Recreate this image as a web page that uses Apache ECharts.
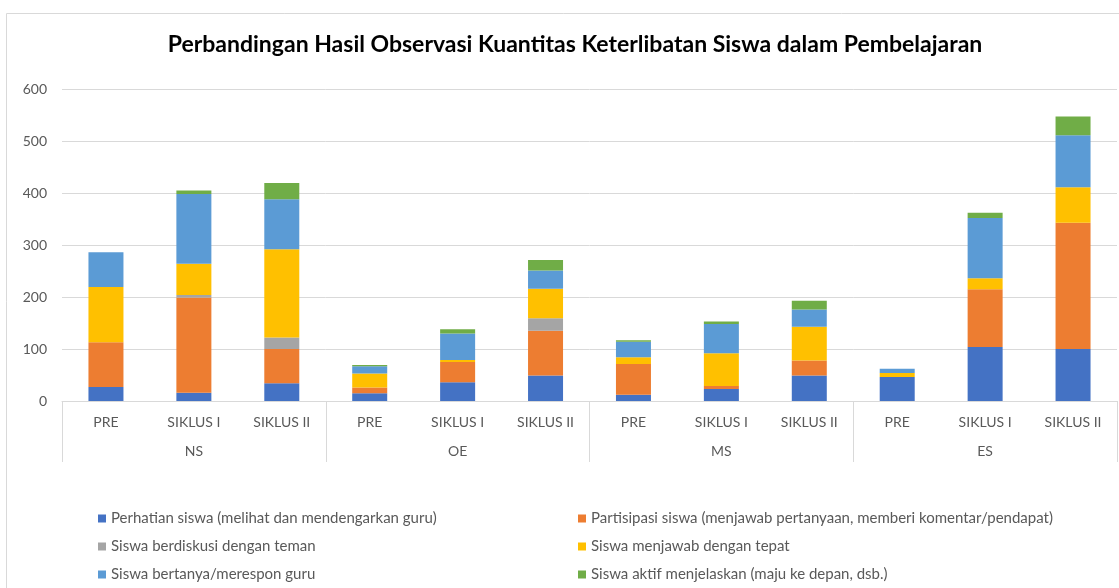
<!DOCTYPE html>
<html>
<head>
<meta charset="utf-8">
<script src="https://cdn.jsdelivr.net/npm/echarts@6/dist/echarts.min.js"></script>
<style>
  html, body { margin: 0; padding: 0; background: #fff; }
  #chart { width: 1119px; height: 588px; }
</style>
</head>
<body>
<div id="chart"></div>
<script>
// categories
const groups = ['NS', 'OE', 'MS', 'ES']
const phases = ['PRE', 'SIKLUS I', 'SIKLUS II']
const categories = []
groups.forEach(g => phases.forEach(p => categories.push(p)))

// series values, order: NS(PRE, SIKLUS I, SIKLUS II), OE(...), MS(...), ES(...)
const perhatian = [27, 16, 34, 15, 36, 49, 12, 23, 49, 46, 104, 100]
const partisipasi = [86, 183, 66, 11, 39, 86, 59, 6, 29, 0, 111, 243]
const diskusi = [0, 5, 22, 0, 0, 24, 0, 0, 0, 0, 0, 0]
const menjawab = [106, 60, 170, 27, 4, 57, 13, 63, 65, 8, 21, 68]
const bertanya = [67, 134, 96, 14, 51, 35, 30, 56, 33, 8, 116, 100]
const aktif = [0, 7, 31, 2, 8, 20, 3, 5, 17, 0, 10, 36]

const yTicks = { min: 0, max: 600, interval: 100 }

const names = [
  'Perhatian siswa (melihat dan mendengarkan guru)',
  'Partisipasi siswa (menjawab pertanyaan, memberi komentar/pendapat)',
  'Siswa berdiskusi dengan teman',
  'Siswa menjawab dengan tepat',
  'Siswa bertanya/merespon guru',
  'Siswa aktif menjelaskan (maju ke depan, dsb.)'
]
const colors = ['#4472C4', '#ED7D31', '#A5A5A5', '#FFC000', '#5B9BD5', '#70AD47']
const values = [perhatian, partisipasi, diskusi, menjawab, bertanya, aktif]

const font = 'Lato, "Open Sans", sans-serif'
const textColor = '#595959'
const lineColor = '#d9d9d9'

const legendBase = {
  orient: 'vertical',
  top: 506,
  itemWidth: 8,
  itemHeight: 8,
  itemGap: 13,
  icon: 'rect',
  selectedMode: false,
  textStyle: { color: textColor, fontSize: 15, fontFamily: font }
}

const chart = echarts.init(document.getElementById('chart'))
chart.setOption({
  animation: false,
  color: colors,
  title: {
    text: 'Perbandingan Hasil Observasi Kuantitas Keterlibatan Siswa dalam Pembelajaran',
    left: 570,
    top: 28,
    textAlign: 'center',
    textStyle: { fontFamily: font, fontSize: 23, fontWeight: 'bold', color: '#000' }
  },
  graphic: [{
    type: 'rect',
    shape: { x: 6.5, y: 13.5, width: 1200, height: 700 },
    style: { fill: 'none', stroke: lineColor, lineWidth: 1 },
    silent: true
  }],
  legend: [
    Object.assign({}, legendBase, { left: 93, data: [names[0], names[2], names[4]] }),
    Object.assign({}, legendBase, { left: 573, data: [names[1], names[3], names[5]] })
  ],
  grid: { left: 62, right: 2, top: 89, bottom: 187 },
  xAxis: [
    {
      type: 'category',
      data: categories,
      axisLine: { show: false },
      axisTick: { show: false },
      axisLabel: { interval: 0, margin: 14, color: textColor, fontSize: 14, fontFamily: font }
    },
    {
      type: 'category',
      position: 'bottom',
      data: groups,
      axisLine: { show: true, lineStyle: { color: lineColor } },
      axisTick: { show: true, length: 61, interval: 0, lineStyle: { color: lineColor } },
      axisLabel: { interval: 0, margin: 43, color: textColor, fontSize: 14, fontFamily: font }
    }
  ],
  yAxis: {
    type: 'value',
    min: yTicks.min,
    max: yTicks.max,
    interval: yTicks.interval,
    axisLine: { show: false },
    axisTick: { show: false },
    axisLabel: { margin: 15, color: textColor, fontSize: 14, fontFamily: font },
    splitLine: { lineStyle: { color: lineColor } }
  },
  series: names.map((name, i) => ({
    name: name,
    type: 'bar',
    stack: 'total',
    xAxisIndex: 0,
    barWidth: 35,
    data: values[i],
    itemStyle: { color: colors[i] }
  }))
})
</script>
</body>
</html>
